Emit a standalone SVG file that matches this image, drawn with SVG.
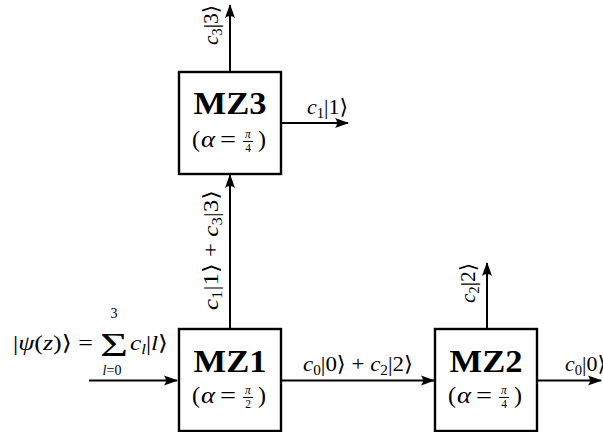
<svg xmlns="http://www.w3.org/2000/svg" width="603" height="432" viewBox="0 0 603 432">
<style>
text{font-family:"Liberation Serif","DejaVu Serif","DejaVu Sans",serif;fill:#000}
.lbl{font-size:21px}
.it{font-style:italic}
.sub{font-size:14px}
.mz{font-size:31px;font-weight:bold;text-anchor:middle}
.al{font-size:24px}
.fr{font-size:11.5px;text-anchor:middle}
.box{fill:#fff;stroke:#000;stroke-width:2.4}
.con{fill:none;stroke:#000;stroke-width:2;marker-end:url(#ah)}
</style>
<defs>
<marker id="ah" markerUnits="userSpaceOnUse" markerWidth="16" markerHeight="12" viewBox="-14 -6 16 12" refX="0" refY="0" orient="auto">
<path d="M1,0 L-13,-5 Q-9,0 -13,5 Z" fill="#000"/>
</marker>
</defs>

<g id="connectors">
<line class="con" x1="89" y1="380.5" x2="177" y2="380.5"/>
<line class="con" x1="281" y1="380.5" x2="434" y2="380.5"/>
<line class="con" x1="537" y1="380.5" x2="601" y2="380.5"/>
<line class="con" x1="230" y1="329" x2="230" y2="175"/>
<line class="con" x1="230" y1="72" x2="230" y2="5"/>
<line class="con" x1="281" y1="123" x2="348" y2="123"/>
<line class="con" x1="487" y1="329" x2="487" y2="263"/>
</g>

<g id="MZ1">
<rect class="box" x="179" y="329" width="102" height="102"/>
<text class="mz" x="230" y="372" textLength="73" lengthAdjust="spacingAndGlyphs">MZ1</text>
<text class="al" x="192" y="403" textLength="8" lengthAdjust="spacingAndGlyphs">(</text>
<text class="al it" x="201" y="403" textLength="14" lengthAdjust="spacingAndGlyphs">α</text>
<text class="al" x="220" y="403" textLength="16" lengthAdjust="spacingAndGlyphs">=</text>
<text class="fr it" x="248" y="394">π</text>
<line x1="243" y1="397.5" x2="253" y2="397.5" stroke="#000" stroke-width="1"/>
<text class="fr" x="248" y="408">2</text>
<text class="al" x="258" y="403" textLength="8" lengthAdjust="spacingAndGlyphs">)</text>
</g>

<g id="MZ2">
<rect class="box" x="435" y="329" width="102" height="102"/>
<text class="mz" x="486" y="372" textLength="73" lengthAdjust="spacingAndGlyphs">MZ2</text>
<text class="al" x="448" y="403" textLength="8" lengthAdjust="spacingAndGlyphs">(</text>
<text class="al it" x="457" y="403" textLength="14" lengthAdjust="spacingAndGlyphs">α</text>
<text class="al" x="476" y="403" textLength="16" lengthAdjust="spacingAndGlyphs">=</text>
<text class="fr it" x="504" y="394">π</text>
<line x1="499" y1="397.5" x2="509" y2="397.5" stroke="#000" stroke-width="1"/>
<text class="fr" x="504" y="408">4</text>
<text class="al" x="514" y="403" textLength="8" lengthAdjust="spacingAndGlyphs">)</text>
</g>

<g id="MZ3">
<rect class="box" x="179" y="72" width="102" height="102"/>
<text class="mz" x="230" y="114" textLength="73" lengthAdjust="spacingAndGlyphs">MZ3</text>
<text class="al" x="192" y="147" textLength="8" lengthAdjust="spacingAndGlyphs">(</text>
<text class="al it" x="201" y="147" textLength="14" lengthAdjust="spacingAndGlyphs">α</text>
<text class="al" x="220" y="147" textLength="16" lengthAdjust="spacingAndGlyphs">=</text>
<text class="fr it" x="248" y="138">π</text>
<line x1="243" y1="141.5" x2="253" y2="141.5" stroke="#000" stroke-width="1"/>
<text class="fr" x="248" y="152">4</text>
<text class="al" x="258" y="147" textLength="8" lengthAdjust="spacingAndGlyphs">)</text>
</g>

<g id="input-label">
<text class="lbl" x="13" y="350" font-size="23" textLength="80" lengthAdjust="spacingAndGlyphs">|<tspan class="it">ψ</tspan>(<tspan class="it">z</tspan>)⟩ =</text>
<text x="100" y="356" font-size="34" textLength="28" lengthAdjust="spacingAndGlyphs">Σ</text>
<text x="114" y="318" font-size="14" text-anchor="middle">3</text>
<text x="112" y="375" font-size="14" text-anchor="middle"><tspan class="it">l</tspan>=0</text>
<text class="lbl" x="130" y="350" font-size="22" textLength="38" lengthAdjust="spacingAndGlyphs"><tspan class="it">c</tspan><tspan class="sub it" dy="4">l</tspan><tspan dy="-4">|</tspan><tspan class="it">l</tspan>⟩</text>
</g>

<g id="labels">
<text class="lbl" x="303" y="371" textLength="110" lengthAdjust="spacingAndGlyphs"><tspan class="it">c</tspan><tspan class="sub" dy="4">0</tspan><tspan dy="-4">|0⟩ + </tspan><tspan class="it">c</tspan><tspan class="sub" dy="4">2</tspan><tspan dy="-4">|2⟩</tspan></text>
<text class="lbl" x="565" y="371" textLength="41" lengthAdjust="spacingAndGlyphs"><tspan class="it">c</tspan><tspan class="sub" dy="4">0</tspan><tspan dy="-4">|0⟩</tspan></text>
<text class="lbl" x="307" y="114" textLength="41" lengthAdjust="spacingAndGlyphs"><tspan class="it">c</tspan><tspan class="sub" dy="4">1</tspan><tspan dy="-4">|1⟩</tspan></text>
<text class="lbl" transform="translate(218,25) rotate(-90)" text-anchor="middle" textLength="40" lengthAdjust="spacingAndGlyphs"><tspan class="it">c</tspan><tspan class="sub" dy="4">3</tspan><tspan dy="-4">|3⟩</tspan></text>
<text class="lbl" transform="translate(218,250) rotate(-90)" text-anchor="middle" textLength="120" lengthAdjust="spacingAndGlyphs"><tspan class="it">c</tspan><tspan class="sub" dy="4">1</tspan><tspan dy="-4">|1⟩ + </tspan><tspan class="it">c</tspan><tspan class="sub" dy="4">3</tspan><tspan dy="-4">|3⟩</tspan></text>
<text class="lbl" transform="translate(475,283) rotate(-90)" text-anchor="middle" textLength="40" lengthAdjust="spacingAndGlyphs"><tspan class="it">c</tspan><tspan class="sub" dy="4">2</tspan><tspan dy="-4">|2⟩</tspan></text>
</g>
</svg>
